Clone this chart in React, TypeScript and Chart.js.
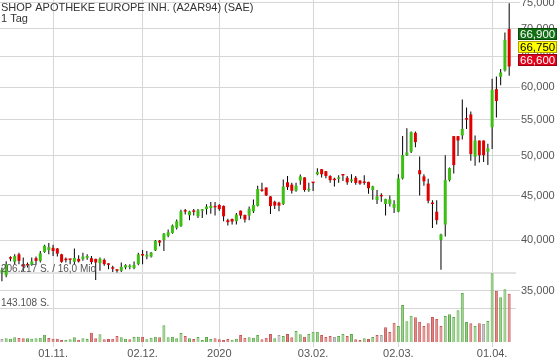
import { useEffect, useRef } from 'react';
import { Chart, registerables } from 'chart.js';

Chart.register(...registerables);

const TITLE = 'SHOP APOTHEKE EUROPE INH. (A2AR94) (SAE)';
const SUBTITLE = '1 Tag';

const DATES = [
  '2019-10-16','2019-10-17','2019-10-18','2019-10-21','2019-10-22','2019-10-23','2019-10-24','2019-10-25','2019-10-28','2019-10-29','2019-10-30','2019-10-31',
  '2019-11-01','2019-11-04','2019-11-05','2019-11-06','2019-11-07','2019-11-08','2019-11-11','2019-11-12','2019-11-13','2019-11-14','2019-11-15','2019-11-18','2019-11-19','2019-11-20','2019-11-21','2019-11-22','2019-11-25','2019-11-26','2019-11-27','2019-11-28','2019-11-29',
  '2019-12-02','2019-12-03','2019-12-04','2019-12-05','2019-12-06','2019-12-09','2019-12-10','2019-12-11','2019-12-12','2019-12-13','2019-12-16','2019-12-17','2019-12-18','2019-12-19','2019-12-20','2019-12-23','2019-12-27','2019-12-30',
  '2020-01-02','2020-01-03','2020-01-06','2020-01-07','2020-01-08','2020-01-09','2020-01-10','2020-01-13','2020-01-14','2020-01-15','2020-01-16','2020-01-17','2020-01-20','2020-01-21','2020-01-22','2020-01-23','2020-01-24','2020-01-27','2020-01-28','2020-01-29','2020-01-30','2020-01-31',
  '2020-02-03','2020-02-04','2020-02-05','2020-02-06','2020-02-07','2020-02-10','2020-02-11','2020-02-12','2020-02-13','2020-02-14','2020-02-17','2020-02-18','2020-02-19','2020-02-20','2020-02-21','2020-02-24','2020-02-25','2020-02-26','2020-02-27','2020-02-28',
  '2020-03-02','2020-03-03','2020-03-04','2020-03-05','2020-03-06','2020-03-09','2020-03-10','2020-03-11','2020-03-12','2020-03-13','2020-03-16','2020-03-17','2020-03-18','2020-03-19','2020-03-20','2020-03-23','2020-03-24','2020-03-25','2020-03-26','2020-03-27','2020-03-30','2020-03-31',
  '2020-04-01','2020-04-02','2020-04-03','2020-04-06','2020-04-07',
];

const OPEN = [
  36730,36460,38150,37780,38540,37550,37480,37480,38150,37880,
  38770,38970,39210,39140,38540,38000,38010,37780,38080,38050,
  38180,38150,38080,37650,37980,37610,37150,36950,36890,37220,
  37250,37150,37550,38480,38310,38310,38940,39960,40030,40480,
  40780,41330,41510,43200,42730,43170,42620,43250,43440,43560,
  43690,43920,43810,42180,42330,42070,43260,42780,42700,43180,
  43810,45620,45990,44920,44290,44180,44030,46630,46340,45600,
  46850,47240,45650,46580,47630,48280,48020,47410,47070,47050,
  47520,47200,46770,47200,46850,46580,46680,45690,44480,44950,
  44030,44030,43590,43140,47110,50100,50560,53150,48150,47370,
  46470,44060,43140,40030,41700,46890,52690,52690,52780,55150,
  55800,49920,52080,52080,50560,53940,59660,61650,62690,69950,
];

const HIGH = [
  37220,37850,38350,38540,38710,38210,37720,38210,38310,38870,
  39530,39700,39530,39200,38600,38210,38050,39140,38440,38710,
  38540,38370,38100,38210,38120,37650,37380,37050,37720,37550,
  37550,37820,38710,38970,38870,38770,40030,40030,40780,41150,
  41700,42260,43370,43440,43260,43440,43440,43440,44000,44260,
  44260,44000,43850,42330,42340,43000,43280,42800,43730,44560,
  46200,46560,46000,44950,44400,44290,46980,47410,46560,46560,
  47590,47250,46560,46600,48410,48300,48050,47500,47200,47500,
  47530,47410,47630,47410,46870,47500,46700,46200,45690,45300,
  44650,45030,44480,47630,52690,53810,53330,53330,49920,47630,
  47070,44480,44480,40700,50100,48500,52700,52700,58070,56840,
  56250,52780,52090,52090,51630,61320,61700,62920,69290,74870,
];

const LOW = [
  35900,36260,37850,37550,37550,36880,37220,37380,37550,37720,
  38710,38540,38370,38310,37700,37720,37550,37550,37720,37880,
  37980,37550,36000,36890,37380,37050,36790,36730,36790,37050,
  37050,37050,37450,37550,38050,38210,38870,39370,38870,40330,
  40700,41150,41450,42810,42180,42700,42440,42440,42810,42920,
  42700,43260,42070,41590,41700,41700,42330,41920,42180,43000,
  43730,45470,44970,42890,43440,43180,43920,45690,45260,45470,
  46340,45470,45470,45560,47500,47240,47140,46560,46120,46560,
  46800,46340,46560,46340,46340,46340,45250,44540,44030,44290,
  42700,43730,43000,43070,46980,50000,50380,51170,45040,46210,
  44110,41330,41700,36990,40400,46720,47720,50000,52220,53710,
  49350,48710,49150,49200,48800,50930,55350,60300,62530,61820,
];

const CLOSE = [
  36980,37550,38100,38370,37880,37320,37420,37820,37880,38640,
  39430,39270,38870,38610,37780,37950,37980,38180,37820,38310,
  38370,37760,37720,38080,37550,37480,37100,36900,37280,37450,
  37310,37480,38540,38420,38480,38710,39960,39760,40700,40850,
  41590,42070,43180,43150,43180,43120,43290,43300,43730,43810,
  43640,43440,42620,41960,42030,42810,42700,42260,43480,43920,
  45820,45570,45040,43780,43840,43840,46120,46040,45600,46210,
  47370,45690,45720,46530,47930,47630,47410,46890,46890,47100,
  47480,46630,46980,46560,46470,46540,45900,46120,44920,44920,
  44620,44560,44030,47110,50100,50470,53250,51860,47630,46760,
  44400,44030,42180,40620,46890,48410,48800,52080,53710,55050,
  50240,52080,50100,50100,51030,59560,57820,62360,67980,63350,
];

const VOLUME = [
  88300,89540,88820,91340,90080,89540,89540,88820,89540,90620,
  96000,90080,88820,88820,86490,87030,87750,91340,87030,89540,
  88300,99590,89540,96720,87750,88300,88820,93670,91340,88820,
  87750,91880,92410,92410,87750,90620,92410,91340,112880,91340,
  92410,89540,99060,93670,89540,88300,91880,86490,91880,88300,
  89540,87750,86490,88300,87030,88820,95470,90620,91340,90620,
  95470,87750,90620,97260,89540,95470,93670,97260,91340,102650,
  96720,92410,97260,101390,101390,95470,91880,93670,91880,93670,
  97260,93670,97260,87750,86490,89540,88300,91880,95470,95470,
  109290,100850,117540,111620,149320,120060,130110,127240,119340,111620,
  116470,127780,124190,111620,129570,132620,127780,139800,170860,118800,
  116470,111620,116470,115210,120600,206217,174980,163140,177500,169600,
];

const PRICE_TICKS = [35000, 40000, 45000, 50000, 55000, 60000, 65000, 70000, 75000];
const TICK_DATES = ['2019-11-01', '2019-12-02', '2020-01-02', '2020-02-03', '2020-03-02', '2020-04-01'];
const TICK_LABELS = ['01.11.', '02.12.', '2020', '03.02.', '02.03.', '01.04.'];
const VOL_LINES = [143108, 206217];
const VOL_LABELS = ['143.108 S.', '206.217 S. / 16,0 Mio'];
const QUOTES = [66900, 66750, 66600];
const QUOTE_BG = ['#136f13', '#ffff00', '#e3001a'];
const QUOTE_BORDER = ['#0a4a0a', '#b0a000', '#9a0010'];
const QUOTE_FG = ['#ffffff', '#000000', '#ffffff'];

const FONT = '"Liberation Sans", Arial, Helvetica, sans-serif';
const UP = '#3cbf12';
const DOWN = '#e00000';
const GRID = '#d6d6d6';

const overlayPlugin = {
  id: 'overlay',
  beforeDatasetsDraw(chart: any) {
    const { ctx, chartArea } = chart;
    const yv = chart.scales.yv;
    ctx.save();
    VOL_LINES.forEach((v, k) => {
      const py = Math.round(yv.getPixelForValue(v));
      ctx.strokeStyle = k === 1 ? '#e2e2e2' : GRID;
      ctx.lineWidth = k === 1 ? 2 : 1;
      ctx.beginPath();
      ctx.moveTo(chartArea.left, py + (k === 1 ? 0 : 0.5));
      ctx.lineTo(chartArea.right, py + (k === 1 ? 0 : 0.5));
      ctx.stroke();
    });
    ctx.restore();
  },
  afterDatasetsDraw(chart: any) {
    const { ctx } = chart;
    const yv = chart.scales.yv;
    ctx.save();
    ctx.font = `10px ${FONT}`;
    ctx.fillStyle = '#555';
    ctx.textAlign = 'left';
    ctx.textBaseline = 'alphabetic';
    VOL_LINES.forEach((v, k) => {
      const py = yv.getPixelForValue(v);
      ctx.fillText(VOL_LABELS[k], 1, py - (k === 1 ? 1 : 2.5));
    });
    ctx.restore();
  },
  afterDraw(chart: any) {
    const { ctx } = chart;
    const y = chart.scales.y;
    ctx.save();
    ctx.font = `11px ${FONT}`;
    ctx.fillStyle = '#333';
    ctx.textAlign = 'left';
    ctx.textBaseline = 'alphabetic';
    ctx.fillText(TITLE, 1, 11);
    ctx.fillText(SUBTITLE, 1, 21.5);

    const mid = y.getPixelForValue(QUOTES[1]);
    QUOTES.forEach((q, k) => {
      const top = Math.round(mid - 6 + (k - 1) * 13);
      ctx.fillStyle = QUOTE_BG[k];
      ctx.fillRect(518, top, 39, 12);
      ctx.strokeStyle = QUOTE_BORDER[k];
      ctx.lineWidth = 1;
      ctx.strokeRect(518.5, top + 0.5, 38, 11);
      ctx.fillStyle = QUOTE_FG[k];
      ctx.font = `11.5px ${FONT}`;
      ctx.textBaseline = 'middle';
      ctx.fillText(q.toLocaleString('en-US'), 520, top + 6.5);
    });
    ctx.restore();
  },
};

export default function App() {
  const ref = useRef<HTMLCanvasElement>(null);

  useEffect(() => {
    document.body.style.margin = '0';
    const idx = DATES.map((_, i) => i);
    const volKind = idx.map((i) =>
      i === 0 || CLOSE[i] === CLOSE[i - 1] ? 0 : CLOSE[i] > CLOSE[i - 1] ? 1 : -1
    );
    const volFill = volKind.map((k) => (k === 0 ? '#c2c2c2' : k > 0 ? '#8fce7e' : '#e27a7a'));
    const volBorder = volKind.map((k) => (k === 0 ? '#9c9c9c' : k > 0 ? '#5da84c' : '#c65757'));

    const chart = new Chart(ref.current as HTMLCanvasElement, {
      type: 'bar',
      data: {
        datasets: [
          {
            label: 'body',
            data: idx.map((i) => ({ x: i, y: [OPEN[i], CLOSE[i]] })) as any,
            yAxisID: 'y',
            backgroundColor: idx.map((i) => (CLOSE[i] >= OPEN[i] ? UP : DOWN)),
            barThickness: 3,
            minBarLength: 1.5,
            inflateAmount: 0,
            grouped: false,
            order: 0,
          },
          {
            label: 'wick',
            data: idx.map((i) => ({ x: i, y: [LOW[i], HIGH[i]] })) as any,
            yAxisID: 'y',
            backgroundColor: '#000000',
            barThickness: 1,
            inflateAmount: 0,
            grouped: false,
            order: 1,
          },
          {
            label: 'volume',
            data: idx.map((i) => ({ x: i, y: VOLUME[i] })) as any,
            yAxisID: 'yv',
            backgroundColor: volFill,
            borderColor: volBorder,
            borderWidth: 1,
            barThickness: 3,
            inflateAmount: 0,
            grouped: false,
            order: 2,
          },
        ],
      },
      options: {
        animation: false,
        responsive: false,
        maintainAspectRatio: false,
        devicePixelRatio: 1,
        events: [],
        layout: { padding: 0, autoPadding: false },
        plugins: { legend: { display: false }, tooltip: { enabled: false }, title: { display: false } },
        scales: {
          x: {
            type: 'linear',
            min: -0.45,
            max: 120.6,
            bounds: 'data',
            offset: false,
            grid: { color: GRID, tickLength: 5, offset: false, drawTicks: true },
            border: { display: false },
            ticks: {
              autoSkip: false,
              maxRotation: 0,
              minRotation: 0,
              padding: 0,
              color: '#555',
              font: { family: FONT, size: 11 },
              callback: (v: any) => {
                const k = TICK_DATES.findIndex((d) => DATES.indexOf(d) === Number(v));
                return k >= 0 ? TICK_LABELS[k] : '';
              },
            },
            afterBuildTicks: (s: any) => {
              s.ticks = TICK_DATES.map((d) => ({ value: DATES.indexOf(d) }));
            },
            afterFit: (s: any) => {
              s.height = 20;
              s.paddingLeft = 0;
              s.paddingRight = 0;
            },
          },
          y: {
            type: 'logarithmic',
            position: 'right',
            min: 30560,
            max: 75535,
            bounds: 'data',
            grid: { color: GRID, tickLength: 4, drawTicks: true },
            border: { display: false },
            ticks: {
              padding: 1,
              color: '#555',
              font: { family: FONT, size: 11 },
              callback: (v: any) => Number(v).toLocaleString('en-US'),
            },
            afterBuildTicks: (s: any) => {
              s.ticks = PRICE_TICKS.map((v) => ({ value: v }));
            },
            afterFit: (s: any) => {
              s.width = 44;
              s.paddingTop = 0;
              s.paddingBottom = 0;
            },
          },
          yv: {
            type: 'linear',
            display: false,
            min: 82900,
            max: 697000,
          },
        },
      } as any,
      plugins: [overlayPlugin],
    });

    return () => chart.destroy();
  }, []);

  return (
    <div style={{ width: 560, height: 362 }}>
      <canvas ref={ref} width={560} height={362} style={{ display: 'block' }} />
    </div>
  );
}
